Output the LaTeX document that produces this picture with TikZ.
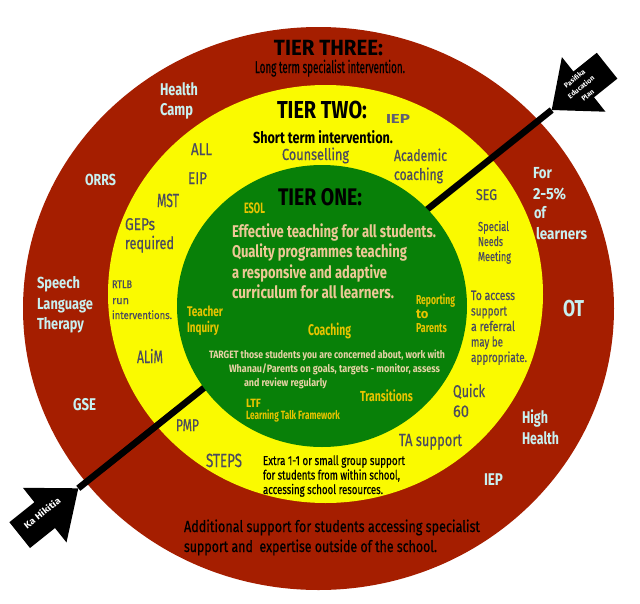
\documentclass[tikz,border=0pt]{standalone}
\usepackage{fontspec}
\setmainfont{Fira Sans}
\newfontfamily\medium{Fira Sans}[FakeBold=0.6]
\usepackage{graphicx}
\newdimen\pxu \pxu=0.75pt
\newcommand\fitw[2]{\resizebox{#1\pxu}{\height}{#2}}
\newcommand\sz[1]{\fontsize{#1}{#1}\selectfont}
\definecolor{ringred}{RGB}{165,30,0}
\definecolor{ringyellow}{RGB}{250,250,0}
\definecolor{ringgreen}{RGB}{8,128,8}
\definecolor{cyanT}{RGB}{200,240,240}
\definecolor{greyT}{RGB}{75,75,95}
\definecolor{goldT}{RGB}{232,196,0}
\definecolor{tanT}{RGB}{236,200,150}
\definecolor{beigeT}{RGB}{230,210,165}
\tikzset{
  lbl/.style={inner sep=0pt, outer sep=0pt, anchor=base west},
  cy/.style={lbl, text=cyanT, font=\bfseries},
  gr/.style={lbl, text=greyT, font=\medium},
  bk/.style={lbl, text=black, font=\medium},
  bkb/.style={lbl, text=black, font=\bfseries},
  gd/.style={lbl, text=goldT, font=\bfseries},
  tn/.style={lbl, text=tanT, font=\bfseries},
  bg/.style={lbl, text=beigeT, font=\bfseries},
  arrowtext/.style={inner sep=0pt, text=white, rotate=38.6, align=center},
}
\begin{document}
\begin{tikzpicture}[x=0.75pt, y=-0.75pt]
\useasboundingbox (0,0) rectangle (640,604);
\fill[white] (0,0) rectangle (640,604);
% rings
\fill[ringred] (318.5,308.5) ellipse [x radius=295.5, y radius=281.5];
\fill[ringyellow] (325.5,294) ellipse [x radius=217.5, y radius=209];
% connector line
\coordinate (tipA) at (551.7,110);
\coordinate (tipB) at (78.3,488.3);
\draw[line width=4.9pt] (tipB) -- (tipA);
\fill[ringgreen] (322,306) ellipse [x radius=145, y radius=141];
% block arrows
\fill[black] (tipA) -- (561.9,57.1) -- (573.4,71.5) -- (596.8,52.8) -- (617.4,78.6) -- (594.0,97.3) -- (605.5,111.7) -- cycle;
\fill[black] (tipB) -- (22.9,487.8) -- (34.4,502.2) -- (9.4,522.2) -- (30.0,548.0) -- (55.0,528.0) -- (66.5,542.4) -- cycle;
\node[arrowtext, font=\bfseries\fontsize{5.25}{7.9}\selectfont] (pasifika) at (581,87) {Pasifika\\Education\\Plan};
\node[arrowtext, font=\bfseries] (kahikitia) at (42,513) {\sz{6.75}\fitw{44}{Ka Hikitia}};

% ---- Tier three (red ring)
\node[bkb, anchor=base] (t3) at (328.5,55) {\sz{16.5}\fitw{109}{TIER THREE:}};
\node[bk] (t3sub) at (255,73) {\sz{12.75}\fitw{150}{Long term specialist intervention.}};
\node[cy] (health1) at (160,95) {\sz{12.75}\fitw{38}{Health}};
\node[cy] (health2) at (160,115) {\sz{12.75}\fitw{33}{Camp}};
\node[cy] (orrs) at (85,185) {\sz{12}\fitw{31}{ORRS}};
\node[cy] (slt1) at (37,288) {\sz{12}\fitw{43}{Speech}};
\node[cy] (slt2) at (37,309) {\sz{12}\fitw{56}{Language}};
\node[cy] (slt3) at (37,329) {\sz{12}\fitw{47}{Therapy}};
\node[cy] (gse) at (73,410) {\sz{12.75}\fitw{23}{GSE}};
\node[cy] (for1) at (533,178) {\sz{12}\fitw{19}{For}};
\node[cy] (for2) at (533,199) {\sz{12}\fitw{33}{2-5\%}};
\node[cy] (for3) at (534,218) {\sz{12}\fitw{12}{of}};
\node[cy] (for4) at (536,239) {\sz{12}\fitw{51}{learners}};
\node[cy] (ot) at (563,316) {\sz{17.25}\fitw{21}{OT}};
\node[cy] (hh1) at (522,423) {\sz{12.75}\fitw{26}{High}};
\node[cy] (hh2) at (522,444) {\sz{12.75}\fitw{37}{Health}};
\node[cy] (iepred) at (484,485) {\sz{12.75}\fitw{19}{IEP}};
\node[bk] (add1) at (184,532) {\sz{12}\fitw{296}{Additional support for students accessing specialist}};
\node[bk] (add2) at (184,552) {\sz{12}\fitw{253}{support and\ \ expertise outside of the school.}};

% ---- Tier two (yellow ring)
\node[bkb] (t2) at (277,118) {\sz{18.4}\fitw{90}{TIER TWO:}};
\node[lbl, font=\bfseries, text={rgb,255:red,95;green,95;blue,115}] (iepyel) at (386,123) {\sz{9.75}\fitw{24}{IEP}};
\node[bkb] (t2sub) at (253,143) {\sz{12}\fitw{140}{Short term intervention.}};
\node[gr] (couns) at (282,160) {\sz{12}\fitw{67}{Counselling}};
\node[gr] (acad1) at (394,161) {\sz{12}\fitw{53}{Academic}};
\node[gr] (acad2) at (394,180) {\sz{12}\fitw{49}{coaching}};
\node[gr] (all) at (191,155) {\sz{12.75}\fitw{21}{ALL}};
\node[gr] (eip) at (188,184) {\sz{12.75}\fitw{19}{EIP}};
\node[gr] (mst) at (157,207) {\sz{14.25}\fitw{22}{MST}};
\node[gr] (geps1) at (125,230) {\sz{12.75}\fitw{30}{GEPs}};
\node[gr] (geps2) at (125,249) {\sz{12.75}\fitw{49}{required}};
\node[gr] (rtlb1) at (112,288) {\sz{8.25}\fitw{20}{RTLB}};
\node[gr] (rtlb2) at (112,304) {\sz{8.25}run};
\node[gr] (rtlb3) at (112,319) {\sz{8.25}\fitw{60}{interventions.}};
\node[gr] (alim) at (137,363) {\sz{13.5}\fitw{26}{ALiM}};
\node[gr] (pmp) at (176,431) {\sz{12.75}\fitw{23}{PMP}};
\node[gr] (steps) at (206,467) {\sz{14.25}\fitw{36}{STEPS}};
\node[gr] (seg) at (476,200) {\sz{11.6}\fitw{21}{SEG}};
\node[gr] (snm1) at (478,231) {\sz{9.75}\fitw{31}{Special}};
\node[gr] (snm2) at (478,246) {\sz{9.75}\fitw{25}{Needs}};
\node[gr] (snm3) at (478,261) {\sz{9.75}\fitw{33}{Meeting}};
\node[gr] (ref1) at (471,300) {\sz{10.1}\fitw{44}{To access}};
\node[gr] (ref2) at (471,315.5) {\sz{10.1}\fitw{36}{support}};
\node[gr] (ref3) at (471,331) {\sz{10.1}\fitw{44}{a referral}};
\node[gr] (ref4) at (471,346.5) {\sz{10.1}\fitw{32}{may be}};
\node[gr] (ref5) at (471,362) {\sz{10.1}\fitw{56}{appropriate.}};
\node[gr] (quick1) at (453,397) {\sz{12.75}\fitw{32}{Quick}};
\node[gr] (quick2) at (453,417) {\sz{12.75}\fitw{16}{60}};
\node[gr] (tasup) at (399,446) {\sz{13.1}\fitw{63}{TA support}};
\node[bk] (extra1) at (263,465) {\sz{9.75}\fitw{142}{Extra 1-1 or small group support}};
\node[bk] (extra2) at (263,479.5) {\sz{9.75}\fitw{137}{for students from within school,}};
\node[bk] (extra3) at (263,494) {\sz{9.75}\fitw{120}{accessing school resources.}};

% ---- Tier one (green circle)
\node[bkb] (t1) at (278,205) {\sz{18}\fitw{84}{TIER ONE:}};
\node[gd] (esol) at (244,213) {\sz{11.25}\fitw{21}{ESOL}};
\node[tn] (eff1) at (232,237) {\sz{12.75}\fitw{204}{Effective teaching for all students.}};
\node[tn] (eff2) at (232,257.5) {\sz{12.75}\fitw{175}{Quality programmes teaching}};
\node[tn] (eff3) at (232,278) {\sz{12.75}\fitw{155}{a responsive and adaptive}};
\node[tn] (eff4) at (232,298.5) {\sz{12.75}\fitw{162}{curriculum for all learners.}};
\node[gd] (rep1) at (416,304) {\sz{9.75}\fitw{39}{Reporting}};
\node[gd] (rep2) at (416,318) {\sz{9.75}to};
\node[gd] (rep3) at (416,332) {\sz{9.75}\fitw{31}{Parents}};
\node[gd] (ti1) at (187,316) {\sz{10.5}\fitw{36}{Teacher}};
\node[gd] (ti2) at (187,332) {\sz{10.5}\fitw{32}{Inquiry}};
\node[gd] (coach) at (308,335) {\sz{11.6}\fitw{43}{Coaching}};
\node[bg] (tg1) at (209,358) {\sz{8}\fitw{236}{TARGET those students you are concerned about, work with}};
\node[bg] (tg2) at (229,372) {\sz{8}\fitw{211}{Whanau/Parents on goals, targets - monitor, assess}};
\node[bg] (tg3) at (244,386) {\sz{8}\fitw{83}{and review regularly}};
\node[gd] (trans) at (360,401) {\sz{10.9}\fitw{53}{Transitions}};
\node[gd] (ltf1) at (246,407) {\sz{9}\fitw{15}{LTF}};
\node[gd] (ltf2) at (246,419) {\sz{9}\fitw{94}{Learning Talk Framework}};
\end{tikzpicture}
\end{document}
